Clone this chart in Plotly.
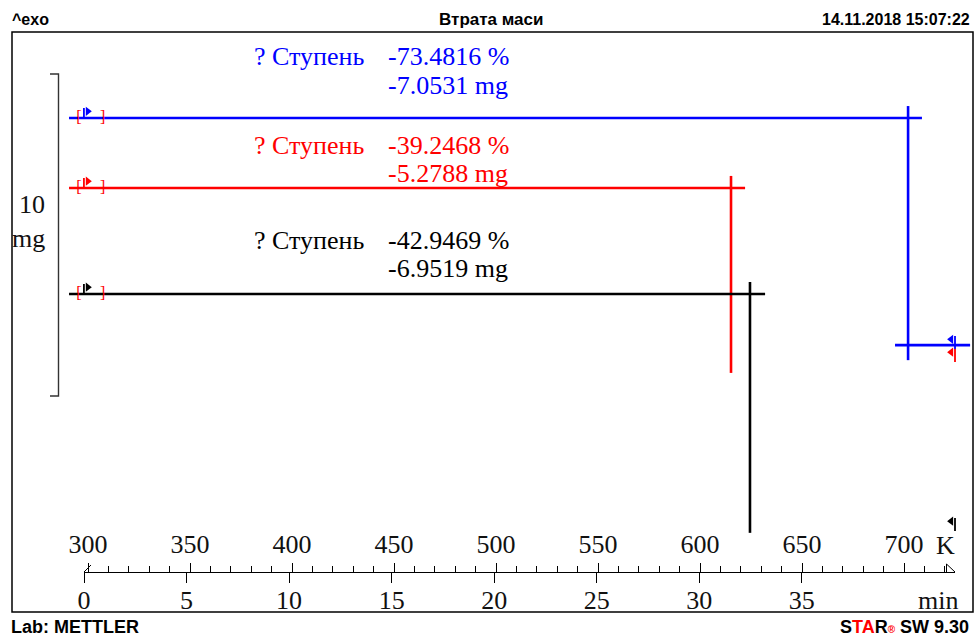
import plotly.graph_objects as go

# ---------------- data ----------------
series_colors = ["#0000ff", "#ff0000", "#000000"]
step_label = ["? Ступень", "? Ступень", "? Ступень"]
step_pct = [-73.4816, -39.2468, -42.9469]
step_mg = [-7.0531, -5.2788, -6.9519]
level_before_mg = [15.34, 13.17, 9.876]          # level of the horizontal line before the step
step_T = [702.0, 615.2, 624.5]                   # temperature (K) of the vertical step line
baseline_start_T = [290.7, 290.7, 290.7]
baseline_end_T = [708.8, 622.1, 631.9]
after_line_T = [(695.6, 732.4), None, None]      # horizontal line after the step (only blue drawn)
start_flag_T = [298.0, 298.0, 298.0]
end_flag_T = [725.0, 725.0, 725.0]
end_flag_mg = [8.57, 8.17, 2.92]
bracket_T = [295.6, 307.2]

temp_ticks = [300, 350, 400, 450, 500, 550, 600, 650, 700]
temp_ticktext = [str(v) for v in temp_ticks]
time_ticks = [0, 5, 10, 15, 20, 25, 30, 35]
time_ticktext = [str(v) for v in time_ticks]

scale_bar_mg = 10
scale_bar_bottom_mg = 6.71
scale_bar_label = ["10", "mg"]

header_left = "^exo"
header_title = "Втрата маси"
header_right = "14.11.2018 15:07:22"
footer_left = "Lab: METTLER"

# ---------------- geometry (pixels) ----------------
W, H = 976, 637
L, R, T, B = 12, 973, 32, 612
PW, PH = R - L, B - T
PX_PER_K = 2.04
PX_PER_MIN = 20.51
PX_PER_MG = 32.2

def px_to_T(px):
    return 300.0 + (px - 88) / PX_PER_K

def px_to_mg(py):
    return (B - py) / PX_PER_MG

def paper_x(px):
    return (px - L) / PW

def paper_y(py):
    return (B - py) / PH

serif = "Liberation Serif, Times New Roman, serif"
sans = "Liberation Sans, Arial, sans-serif"

fig = go.Figure()

over_top = 12 / PX_PER_MG
over_bot = 15 / PX_PER_MG
flag_h = 10 / PX_PER_MG
for i in range(3):
    c = series_colors[i]
    lb = level_before_mg[i]
    la = lb + step_mg[i]
    fig.add_trace(go.Scatter(x=[baseline_start_T[i], baseline_end_T[i]], y=[lb, lb],
                             mode="lines", line=dict(color=c, width=2.6), hoverinfo="skip"))
    fig.add_trace(go.Scatter(x=[step_T[i], step_T[i]], y=[lb + over_top, la - over_bot],
                             mode="lines", line=dict(color=c, width=2.6), hoverinfo="skip"))
    if after_line_T[i] is not None:
        fig.add_trace(go.Scatter(x=list(after_line_T[i]), y=[la, la],
                                 mode="lines", line=dict(color=c, width=2.6), hoverinfo="skip"))
    # red brackets
    fig.add_trace(go.Scatter(x=bracket_T, y=[lb, lb], mode="text", text=["[", "]"],
                             textfont=dict(family=serif, size=16, color="#ff0000"),
                             hoverinfo="skip"))
    # start flag: pole + triangle
    fig.add_trace(go.Scatter(x=[start_flag_T[i], start_flag_T[i]], y=[lb, lb + flag_h],
                             mode="lines", line=dict(color=c, width=1.8), hoverinfo="skip"))
    fig.add_trace(go.Scatter(x=[start_flag_T[i] + 1.9], y=[lb + flag_h - 0.1],
                             mode="markers", marker=dict(symbol="triangle-right", size=8, color=c),
                             hoverinfo="skip"))
    # end flag
    ef = end_flag_mg[i]
    fig.add_trace(go.Scatter(x=[end_flag_T[i], end_flag_T[i]], y=[ef, ef - 1.3 * flag_h],
                             mode="lines", line=dict(color=c, width=1.8), hoverinfo="skip"))
    fig.add_trace(go.Scatter(x=[end_flag_T[i] - 1.9], y=[ef - 0.1],
                             mode="markers", marker=dict(symbol="triangle-left", size=8, color=c),
                             hoverinfo="skip"))

# scale bar "]"
bx = px_to_T(58.5)
bx0 = px_to_T(50)
fig.add_trace(go.Scatter(
    x=[bx0, bx, bx, bx0],
    y=[scale_bar_bottom_mg + scale_bar_mg, scale_bar_bottom_mg + scale_bar_mg,
       scale_bar_bottom_mg, scale_bar_bottom_mg],
    mode="lines", line=dict(color="#333333", width=1.4), hoverinfo="skip"))

anns = []
row1_y = [56.7, 145.0, 240.0]
for i in range(3):
    c = series_colors[i]
    anns.append(dict(xref="paper", yref="paper", x=paper_x(366), y=paper_y(row1_y[i]),
                     xanchor="right", yanchor="middle", text=step_label[i], showarrow=False,
                     font=dict(family=serif, size=26, color=c)))
    anns.append(dict(xref="paper", yref="paper", x=paper_x(386), y=paper_y(row1_y[i]),
                     xanchor="left", yanchor="middle", text=f"{step_pct[i]:.4f} %", showarrow=False,
                     font=dict(family=serif, size=26, color=c)))
    anns.append(dict(xref="paper", yref="paper", x=paper_x(386), y=paper_y(row1_y[i] + 28.5),
                     xanchor="left", yanchor="middle", text=f"{step_mg[i]:.4f} mg", showarrow=False,
                     font=dict(family=serif, size=26, color=c)))

anns.append(dict(xref="paper", yref="paper", x=paper_x(31.5), y=paper_y(204), xanchor="center",
                 yanchor="middle", text=scale_bar_label[0], showarrow=False,
                 font=dict(family=serif, size=26, color="#111")))
anns.append(dict(xref="paper", yref="paper", x=paper_x(28.5), y=paper_y(238), xanchor="center",
                 yanchor="middle", text=scale_bar_label[1], showarrow=False,
                 font=dict(family=serif, size=26, color="#111")))

anns.append(dict(xref="paper", yref="paper", x=paper_x(945), y=paper_y(545), xanchor="center",
                 yanchor="middle", text="K", showarrow=False,
                 font=dict(family=serif, size=26, color="#111")))
anns.append(dict(xref="paper", yref="paper", x=paper_x(960), y=paper_y(600), xanchor="right",
                 yanchor="middle", text="min", showarrow=False,
                 font=dict(family=serif, size=26, color="#111")))

anns.append(dict(xref="paper", yref="paper", x=paper_x(10), y=paper_y(20), xanchor="left",
                 yanchor="middle", text=header_left, showarrow=False,
                 font=dict(family=sans, size=16, color="#000", weight="bold")))
anns.append(dict(xref="paper", yref="paper", x=paper_x(491), y=paper_y(20), xanchor="center",
                 yanchor="middle", text=header_title, showarrow=False,
                 font=dict(family=sans, size=17, color="#000", weight="bold")))
anns.append(dict(xref="paper", yref="paper", x=paper_x(972), y=paper_y(20), xanchor="right",
                 yanchor="middle", text=header_right, showarrow=False,
                 font=dict(family=sans, size=16, color="#000", weight="bold")))
anns.append(dict(xref="paper", yref="paper", x=paper_x(9), y=paper_y(627), xanchor="left",
                 yanchor="middle", text=footer_left, showarrow=False,
                 font=dict(family=sans, size=18, color="#000", weight="bold")))
anns.append(dict(xref="paper", yref="paper", x=paper_x(971), y=paper_y(627), xanchor="right",
                 yanchor="middle",
                 text="S<span style='color:#ff0000'>TA</span>R<span style='color:#ff0000;font-size:10px'>®</span> SW 9.30",
                 showarrow=False, font=dict(family=sans, size=18, color="#000", weight="bold")))

shapes = [
    dict(type="rect", xref="paper", yref="paper", x0=0, x1=1, y0=0, y1=1,
         line=dict(color="#000", width=1.5)),
    dict(type="line", xref="paper", yref="paper", x0=paper_x(84), y0=paper_y(572),
         x1=paper_x(91), y1=paper_y(565), line=dict(color="#000", width=1)),
    dict(type="path", xref="paper", yref="paper",
         path=f"M {paper_x(946.5)},{paper_y(572)} L {paper_x(946.5)},{paper_y(564)} L {paper_x(955)},{paper_y(572)}",
         line=dict(color="#000", width=1)),
]

axis_y = paper_y(572)
dom = [paper_x(84), paper_x(955)]

fig.update_layout(
    width=W, height=H,
    margin=dict(l=L, r=W - R, t=T, b=H - B, autoexpand=False),
    paper_bgcolor="white", plot_bgcolor="rgba(0,0,0,0)",
    showlegend=False,
    annotations=anns, shapes=shapes,
    xaxis=dict(range=[px_to_T(L), px_to_T(R)], visible=False, domain=[0, 1]),
    yaxis=dict(range=[0, px_to_mg(T)], visible=False, domain=[0, 1]),
    xaxis2=dict(range=[px_to_T(84), px_to_T(955)], domain=dom, anchor="free", position=axis_y,
                side="top", showline=True, linecolor="#000", linewidth=1,
                ticks="outside", ticklen=9, tickwidth=1, tickcolor="#000",
                tickvals=temp_ticks, ticktext=temp_ticktext, showgrid=False, zeroline=False,
                tickfont=dict(family=serif, size=26, color="#111"),
                minor=dict(dtick=10, tick0=300, ticks="outside", ticklen=6, tickcolor="#000",
                           showgrid=False)),
    xaxis3=dict(range=[0, (955 - 84) / PX_PER_MIN], domain=dom, anchor="free", position=axis_y,
                side="bottom", showline=True, linecolor="#000", linewidth=1,
                ticks="outside", ticklen=10, tickwidth=1, tickcolor="#000",
                ticklabelstandoff=-5,
                tickvals=time_ticks, ticktext=time_ticktext, showgrid=False, zeroline=False,
                tickfont=dict(family=serif, size=26, color="#111")),
)
fig.add_trace(go.Scatter(x=[px_to_T(84)], y=[0], xaxis="x2", yaxis="y", mode="markers",
                         marker=dict(opacity=0), hoverinfo="skip"))
fig.add_trace(go.Scatter(x=[0], y=[0], xaxis="x3", yaxis="y", mode="markers",
                         marker=dict(opacity=0), hoverinfo="skip"))

fig.write_html("out.html")
